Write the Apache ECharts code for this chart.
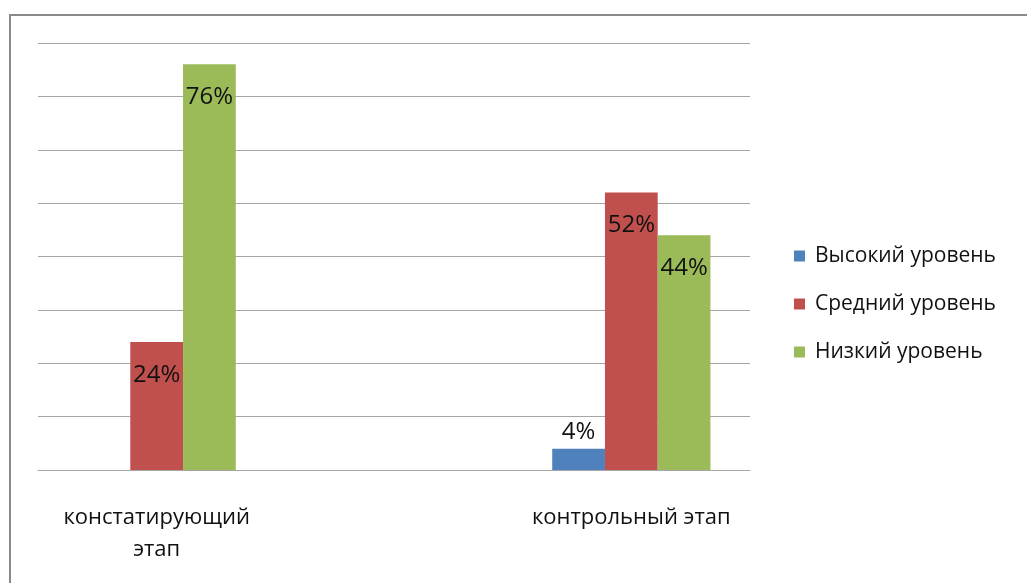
<!DOCTYPE html>
<html>
<head>
<meta charset="utf-8">
<script src="https://cdn.jsdelivr.net/npm/echarts@6/dist/echarts.min.js"></script>
<style>html,body{margin:0;padding:0;background:#fff}#c{width:1027px;height:583px}</style>
</head>
<body>
<div id="c"></div>
<script>
var categories = ['констатирующий этап', '', 'контрольный этап'];
var seriesNames = ['Высокий уровень', 'Средний уровень', 'Низкий уровень'];
var highValues = ['-', '-', 4];
var midValues = [24, '-', 52];
var lowValues = [76, '-', 44];
var yTicks = [0, 10, 20, 30, 40, 50, 60, 70, 80];

var colors = ['#4F81BD', '#C0504D', '#9BBB59'];
var FONT = 'Open Sans';
function labelCfg() {
  return {show: true, position: 'insideTop', distance: 21, formatter: '{c}%', color: '#111',
          fontFamily: FONT, fontSize: 24, lineHeight: 24};
}
function mk(name, vals, idx) {
  return {
    name: name, type: 'bar', barGap: 0, barCategoryGap: '33.33%',
    itemStyle: {color: colors[idx]},
    label: labelCfg(),
    data: vals.map(function (v) {
      if (v !== '-' && v < 8) return {value: v, label: {position: 'top', distance: 4}};
      return v;
    })
  };
}
var chart = echarts.init(document.getElementById('c'));
chart.setOption({
  animation: false,
  graphic: [{type: 'rect', shape: {x: 10, y: 15, width: 1040, height: 620},
    style: {fill: 'none', stroke: '#8a8a8a', lineWidth: 2}, silent: true}],
  grid: {left: 38, right: 277, top: 43, bottom: 113},
  legend: {
    orient: 'vertical', left: 789, top: 240, itemWidth: 11, itemHeight: 11, itemGap: 26,
    icon: 'rect',
    textStyle: {fontFamily: FONT, fontSize: 21, color: '#111', lineHeight: 22, padding: [0, 0, 0, 5]},
    data: seriesNames
  },
  xAxis: {
    type: 'category', data: categories,
    axisLine: {show: true, lineStyle: {color: '#a6a6a6', width: 1}},
    axisTick: {show: false},
    axisLabel: {margin: 32, fontFamily: FONT, fontSize: 22, color: '#111', lineHeight: 32,
                interval: 0, overflow: 'none',
                formatter: function (s) { return s.length > 16 ? s.replace(' ', '\n') : s; }}
  },
  yAxis: {
    type: 'value', min: yTicks[0], max: yTicks[yTicks.length - 1], interval: 10,
    axisLine: {show: false}, axisTick: {show: false}, axisLabel: {show: false},
    splitLine: {lineStyle: {color: '#a6a6a6', width: 1}}
  },
  series: [mk(seriesNames[0], highValues, 0), mk(seriesNames[1], midValues, 1), mk(seriesNames[2], lowValues, 2)]
});
</script>
</body>
</html>
